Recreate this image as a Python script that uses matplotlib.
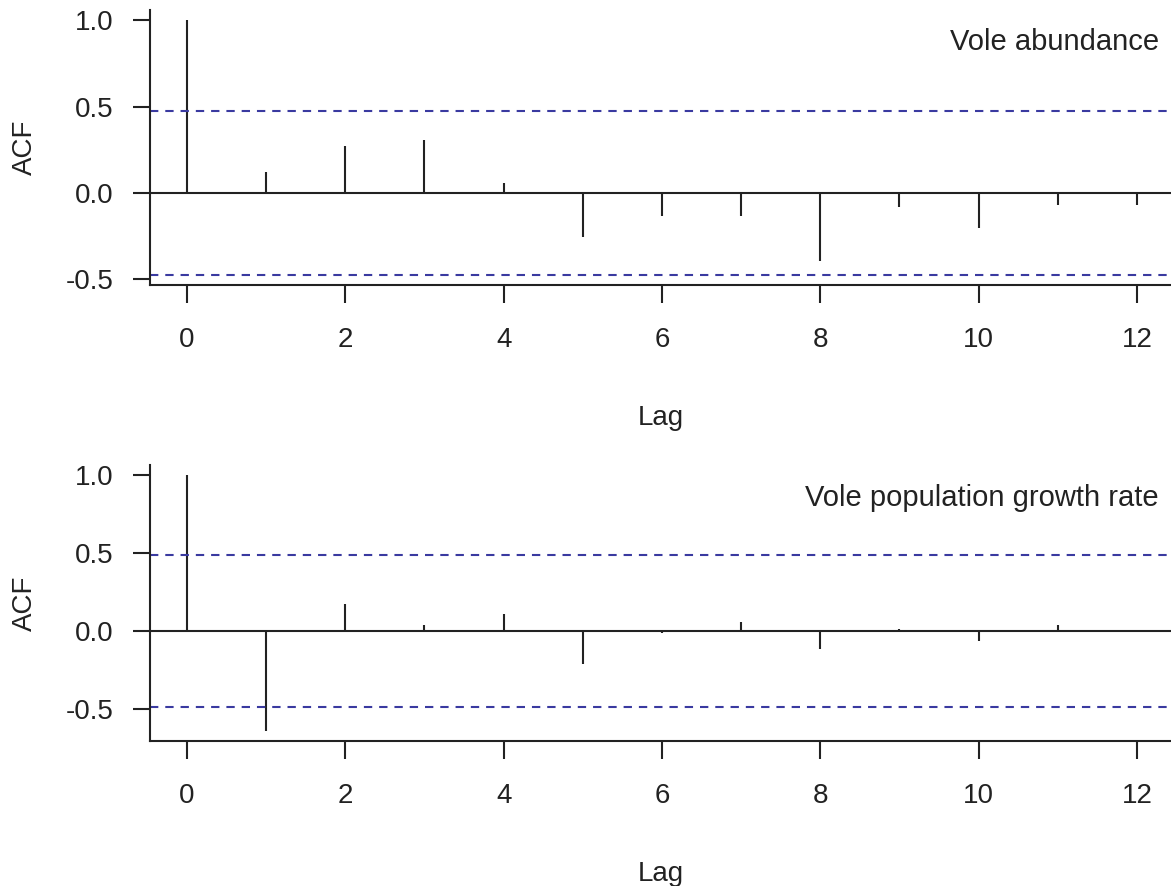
import matplotlib
matplotlib.use('Agg')
from matplotlib import pyplot as plt

# data
lags = list(range(0, 13))
acf_abundance = [1.0, 0.12, 0.275, 0.305, 0.057, -0.257, -0.136, -0.136, -0.395, -0.083, -0.203, -0.071, -0.071]
acf_growth = [1.0, -0.64, 0.172, 0.039, 0.112, -0.215, -0.016, 0.06, -0.118, 0.011, -0.065, 0.04, -0.005]
ci_abundance = 0.475
ci_growth = 0.49
titles = ['Vole abundance', 'Vole population growth rate']
yticks = [-0.5, 0.0, 0.5, 1.0]
ytick_labels = ['-0.5', '0.0', '0.5', '1.0']
xticks = [0, 2, 4, 6, 8, 10, 12]

plt.rcParams['font.family'] = ['Liberation Sans', 'DejaVu Sans']
plt.rcParams['axes.unicode_minus'] = False
plt.rcParams['lines.scale_dashes'] = False

fig = plt.figure(figsize=(11.71, 8.86), dpi=100)

ink = '#222222'
lw = 1.5

# axes boxes in figure fractions
boxes = [[0.1281, 0.6783, 0.8719, 0.3104],
         [0.1281, 0.1637, 0.8719, 0.3115]]
ylims = [(-0.533, 1.06), (-0.706, 1.066)]
series = [acf_abundance, acf_growth]
cis = [ci_abundance, ci_growth]
title_y = [0.885, 0.88]

for box, ylim, acf, ci, title, ty in zip(boxes, ylims, series, cis, titles, title_y):
    ax = fig.add_axes(box)
    ax.vlines(lags, 0, acf, color=ink, linewidth=lw)
    ax.axhline(0, color=ink, linewidth=lw)
    for v in (ci, -ci):
        ax.axhline(v, color='#3a3aa0', linewidth=lw, dashes=(6, 5))
    ax.set_xlim(-0.467, 12.43)
    ax.set_ylim(*ylim)
    ax.set_xticks(xticks)
    ax.set_yticks(yticks)
    ax.set_yticklabels(ytick_labels)
    for s in ('top', 'right'):
        ax.spines[s].set_visible(False)
    for s in ('left', 'bottom'):
        ax.spines[s].set_color(ink)
        ax.spines[s].set_linewidth(lw)
    ax.tick_params(axis='y', length=12.5, width=lw, color=ink, labelsize=20, labelcolor=ink, pad=14)
    ax.tick_params(axis='x', length=13, width=lw, color=ink, labelsize=20, labelcolor=ink, pad=17)
    ax.set_ylabel('ACF', fontsize=20, color=ink)
    ax.yaxis.set_label_coords(-0.11, 0.5)
    ax.set_xlabel('Lag', fontsize=20, color=ink)
    ax.xaxis.set_label_coords(0.5, -0.435)
    ax.text(0.988, ty, title, transform=ax.transAxes, ha='right', va='center',
            fontsize=21, color=ink)

plt.savefig('out.png', dpi=100)
